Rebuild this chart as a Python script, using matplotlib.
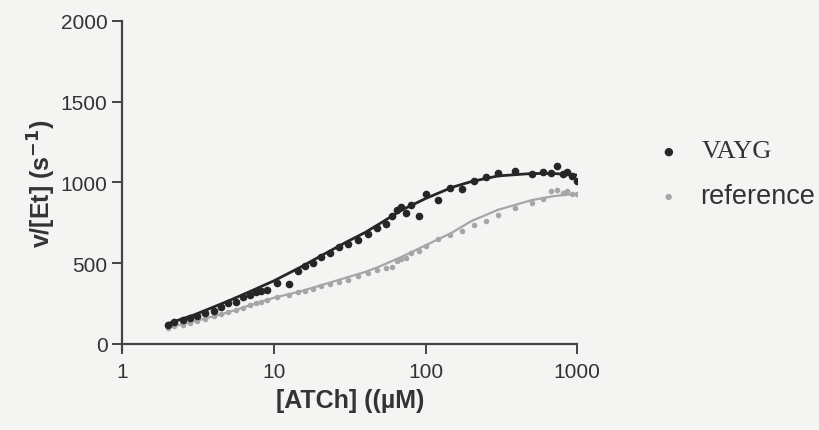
import matplotlib
matplotlib.use("Agg")
import matplotlib.pyplot as plt
import numpy as np

# substrate concentrations (uM)
conc = [2.0, 2.2, 2.5, 2.8, 3.1, 3.5, 4.0, 4.5, 5.0, 5.6, 6.3, 7.0, 7.6, 8.2, 9.0,
        10.5, 12.5, 14.5, 16.0, 18.0, 20.5, 23.5, 27.0, 31.0, 36.0, 42.0, 48.0,
        55.0, 60.0, 65.0, 69.0, 74.0, 80.0, 90.0, 100.0, 120.0, 145.0, 175.0,
        210.0, 250.0, 300.0, 390.0, 500.0, 590.0, 670.0, 740.0, 800.0, 860.0,
        930.0, 1000.0]

vayg_rate = [118, 132, 150, 162, 175, 190, 205, 228, 255, 262, 290, 300, 318, 330, 335,
             375, 370, 450, 480, 500, 540, 565, 600, 620, 645, 680, 720,
             745, 790, 830, 845, 810, 860, 790, 930, 890, 965, 960,
             1010, 1035, 1060, 1070, 1055, 1065, 1060, 1100, 1050, 1065,
             1040, 1010]

ref_rate = [95, 108, 118, 128, 140, 155, 170, 182, 195, 210, 222, 240, 250, 258, 270,
            290, 305, 318, 330, 340, 355, 368, 385, 395, 420, 440, 455,
            470, 475, 510, 525, 530, 560, 575, 605, 650, 675, 700,
            735, 760, 800, 840, 875, 895, 945, 950, 935, 945,
            930, 925]

# fitted curves
fit_x = [2, 3, 5, 7, 10, 15, 20, 30, 40, 50, 70, 100, 150, 200, 300, 500, 700, 1000]
vayg_fit = [125, 180, 265, 325, 390, 475, 540, 630, 690, 745, 830, 900, 970, 1005, 1040, 1055, 1055, 1045]
ref_fit = [100, 140, 195, 240, 285, 325, 360, 410, 445, 480, 540, 610, 690, 760, 830, 890, 915, 930]

bg = '#f4f4f3'
dark = '#262626'
grey = '#a6a6a6'
txt = '#333333'

plt.rcParams['font.family'] = ['Liberation Sans', 'DejaVu Sans']

fig = plt.figure(figsize=(8.2, 4.31), dpi=100, facecolor=bg)
ax = fig.add_axes([0.149, 0.2, 0.555, 0.749])
ax.set_facecolor(bg)

ax.plot(fit_x, vayg_fit, color=dark, lw=2.0, zorder=3)
ax.plot(conc, vayg_rate, 'o', color=dark, ms=5.5, mec='none', zorder=4)
ax.plot(fit_x, ref_fit, color=grey, lw=1.6, zorder=2)
ax.plot(conc, ref_rate, 'o', color=grey, ms=4.0, mec='none', zorder=2)

ax.set_xscale('log')
ax.set_xlim(1, 1000)
ax.set_ylim(0, 2000)
ax.set_xticks([1, 10, 100, 1000])
ax.set_xticklabels(['1', '10', '100', '1000'])
ax.xaxis.set_minor_locator(matplotlib.ticker.NullLocator())
ax.set_yticks([0, 500, 1000, 1500, 2000])

for s in ['top', 'right']:
    ax.spines[s].set_visible(False)
for s in ['left', 'bottom']:
    ax.spines[s].set_color('#444444')
    ax.spines[s].set_linewidth(1.6)
ax.spines['left'].set_bounds(-40, 2000)
ax.tick_params(axis='both', colors='#444444', width=1.4, length=7,
               labelsize=15, labelcolor=txt)
ax.tick_params(axis='x', pad=6)

ax.set_xlabel('[ATCh] ((µM)', fontsize=18, fontweight='bold', color=txt, labelpad=5)
ax.set_ylabel('v/[Et] (s$^{\\mathbf{-1}}$)', fontsize=18, fontweight='bold', color=txt, labelpad=2)

# legend
fig.text(0.815, 1 - 152 / 431, '●', fontsize=8, color=dark, ha='center', va='center',
         family='DejaVu Sans')
fig.text(0.856, 1 - 152 / 431, 'VAYG', fontsize=19, color=txt, ha='left', va='center',
         family=['Liberation Serif', 'DejaVu Serif'])
fig.text(0.815, 1 - 197 / 431, '●', fontsize=6, color=grey, ha='center', va='center',
         family='DejaVu Sans')
fig.text(0.854, 1 - 197 / 431, 'reference', fontsize=19.5, color=txt, ha='left', va='center')

fig.savefig('out.png', dpi=100, facecolor=bg)
